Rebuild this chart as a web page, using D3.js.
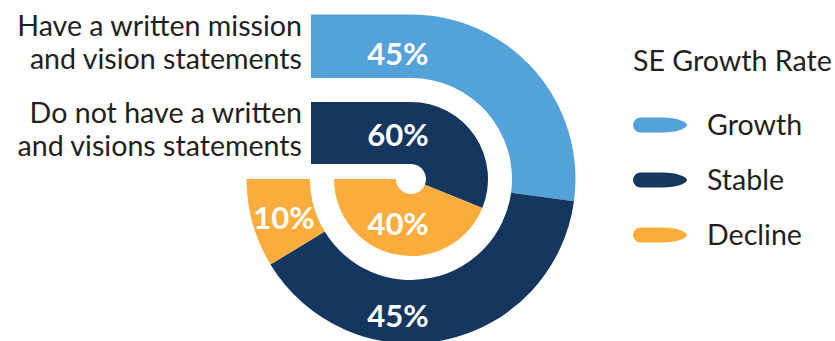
<!DOCTYPE html>
<html>
<head>
<meta charset="utf-8">
<script src="https://cdn.jsdelivr.net/npm/d3@7/dist/d3.min.js"></script>
<style>
  html, body { margin: 0; padding: 0; background: #fff; }
  svg { display: block; font-family: Lato, "Open Sans", sans-serif; }
</style>
</head>
<body>
<svg id="chart" width="835" height="341"></svg>
<script>
// Categories (one ring each, outer first) and the share of each growth rate
const categories = [
  ["Have a written mission", "and vision statements"],
  ["Do not have a written", "and visions statements"]
];
const seriesNames = ["Growth", "Stable", "Decline"];
const growth  = [45, 0];
const stable  = [45, 60];
const decline = [10, 40];
const legendTitle = "SE Growth Rate";

const colors = ["#53a2d9", "#14365f", "#faad3d"];
const textColor = "#231f20";
const textSize = 28.6;

// Layout of the "track": a straight lead-in followed by a 270° clockwise arc
const cx = 411, cy = 179;
const lead = 100;
const ringRadii = [
  { r0: 101, r1: 164.5 },
  { r0: 15,  r1: 77 }
];
// Where each value label sits, in polar terms (degrees clockwise from 12 o'clock, radius)
const labelSpots = [
  [{ a: -6, r: 126 }, { a: 185.4, r: 137.6 }, { a: 252.9, r: 133 }],
  [null,              { a: -16.5, r: 46 },    { a: 196,   r: 46.8 }]
];

const svg = d3.select("#chart");
const values = [growth, stable, decline];

function segmentPath(ring, d0, d1) {
  const { r0, r1 } = ring;
  const rm = (r0 + r1) / 2;
  const top = -Math.PI / 2;
  const p = d3.path();
  if (d0 < lead) {
    const x0 = cx - lead + d0;
    if (d1 <= lead) {
      const x1 = cx - lead + d1;
      p.rect(x0, cy - r1, x1 - x0, r1 - r0);
    } else {
      const a1 = (d1 - lead) / rm;
      p.moveTo(x0, cy - r1);
      p.lineTo(cx, cy - r1);
      p.arc(cx, cy, r1, top, top + a1);
      p.arc(cx, cy, r0, top + a1, top, true);
      p.lineTo(x0, cy - r0);
      p.closePath();
    }
  } else {
    const a0 = (d0 - lead) / rm, a1 = (d1 - lead) / rm;
    p.moveTo(cx + r1 * Math.cos(top + a0), cy + r1 * Math.sin(top + a0));
    p.arc(cx, cy, r1, top + a0, top + a1);
    p.arc(cx, cy, r0, top + a1, top + a0, true);
    p.closePath();
  }
  return p.toString();
}

categories.forEach((cat, i) => {
  const ring = ringRadii[i];
  const rm = (ring.r0 + ring.r1) / 2;
  const track = d3.scaleLinear()
    .domain([0, 100])
    .range([0, lead + 1.5 * Math.PI * rm]);

  const segs = [];
  let acc = 0;
  seriesNames.forEach((name, s) => {
    const v = values[s][i];
    segs.push({ name, s, v, start: acc, end: acc + v });
    acc += v;
  });

  const g = svg.append("g").attr("class", "ring");
  g.selectAll("path")
    .data(segs.filter(d => d.v > 0))
    .join("path")
    .attr("d", d => segmentPath(ring, track(d.start), track(d.end)))
    .attr("fill", d => colors[d.s]);

  g.selectAll("text.value")
    .data(segs.filter(d => d.v > 0 && labelSpots[i][d.s]))
    .join("text")
    .attr("class", "value")
    .attr("x", d => {
      const sp = labelSpots[i][d.s];
      return cx + sp.r * Math.sin(sp.a * Math.PI / 180);
    })
    .attr("y", d => {
      const sp = labelSpots[i][d.s];
      return cy - sp.r * Math.cos(sp.a * Math.PI / 180);
    })
    .attr("dy", "0.36em")
    .attr("text-anchor", "middle")
    .attr("fill", "#fff")
    .attr("font-size", 31)
    .attr("font-weight", 700)
    .text(d => d.v + "%");

  // Category label to the left of the ring's lead-in
  const bandMid = cy - rm;
  const lineStep = 33;
  svg.append("text")
    .attr("text-anchor", "end")
    .attr("font-size", textSize)
    .attr("fill", textColor)
    .selectAll("tspan")
    .data(cat)
    .join("tspan")
    .attr("x", cx - lead - 9)
    .attr("y", (d, k) => bandMid - 10.5 + k * lineStep)
    .text(d => d);
});

// Legend
const legend = svg.append("g").attr("transform", "translate(633,0)");
legend.append("text")
  .attr("x", 0).attr("y", 71)
  .attr("font-size", textSize)
  .attr("fill", textColor)
  .text(legendTitle);

const rowY = d3.scalePoint().domain(seriesNames).range([125, 235]);
const marker = "M7.5,-7.5H30C44,-7.5 54,-3 54,0C54,3 44,7.5 30,7.5H7.5A7.5,7.5 0 0 1 7.5,-7.5Z";
const rows = legend.selectAll("g.row")
  .data(seriesNames)
  .join("g")
  .attr("class", "row")
  .attr("transform", d => `translate(0,${rowY(d)})`);
rows.append("path")
  .attr("d", marker)
  .attr("fill", (d, k) => colors[k]);
rows.append("text")
  .attr("x", 74)
  .attr("y", 9.5)
  .attr("font-size", textSize)
  .attr("fill", textColor)
  .text(d => d);
</script>
</body>
</html>
